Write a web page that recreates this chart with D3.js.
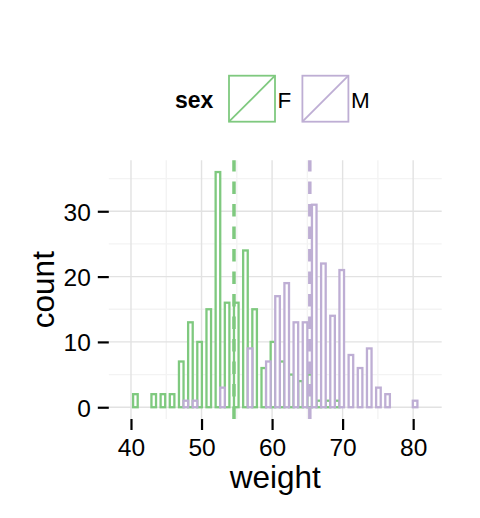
<!DOCTYPE html>
<html>
<head>
<meta charset="utf-8">
<script src="https://cdn.jsdelivr.net/npm/d3@7"></script>
<style>
  body { margin: 0; background: #fff; }
  text { font-family: "Liberation Sans", Arial, sans-serif; fill: #000; }
</style>
</head>
<body>
<div id="chart"></div>
<script>
"use strict";

// histogram bins (lower edge of each bin, kg) and bin width
var binLower = [39.0, 40.3, 41.6, 42.9, 44.2, 45.5, 46.8, 48.1, 49.4, 50.7, 52.0,
  53.3, 54.6, 55.9, 57.2, 58.5, 59.8, 61.1, 62.4, 63.7, 65.0, 66.3, 67.6, 68.9,
  70.2, 71.5, 72.8, 74.1, 75.4, 76.7, 78.0, 79.3, 80.6];
var binWidth = 1.3;

var sexes = ["F", "M"];
var countF = [0, 2, 0, 2, 2, 2, 7, 13, 10, 15, 36, 16, 16, 24, 15, 6, 10, 7, 5, 4,
  5, 1, 1, 1, 0, 0, 0, 0, 0, 0, 0, 0, 0];
var countM = [0, 0, 0, 0, 0, 0, 1, 1, 0, 0, 3, 0, 0, 9, 0, 7, 17, 19, 13, 13, 31,
  22, 14, 21, 8, 6, 9, 3, 2, 0, 0, 1, 0];
var groupMean = [54.6, 65.35];

var xTicks = [40, 50, 60, 70, 80];
var yTicks = [0, 10, 20, 30];
var xMinor = [45, 55, 65, 75];
var yMinor = [5, 15, 25, 35];

var colors = ["#7FC97F", "#BEAED4"];

var W = 480, H = 518;
var margin = { top: 160.3, right: 38.3, bottom: 99, left: 108.8 },
  width = W - margin.left - margin.right,
  height = H - margin.top - margin.bottom;

// ggplot-like 5% expansion
function expand(lo, hi) {
  var d = (hi - lo) * 0.05;
  return [lo - d, hi + d];
}

var counts = [countF, countM];
var bars = [];
sexes.forEach(function(s, g) {
  binLower.forEach(function(lo, i) {
    bars.push({ sex: s, g: g, lo: lo, n: counts[g][i] });
  });
});

var x = d3
  .scaleLinear()
  .domain(expand(binLower[0], binLower[binLower.length - 1] + binWidth))
  .range([0, width]);
var y = d3
  .scaleLinear()
  .domain(expand(0, d3.max(bars, function(d) { return d.n; })))
  .range([height, 0]);

var svg = d3
  .select("#chart")
  .append("svg")
  .attr("width", W)
  .attr("height", H);

svg.append("rect").attr("width", W).attr("height", H).attr("fill", "#fff");

var panel = svg
  .append("g")
  .attr("transform", "translate(" + margin.left + "," + margin.top + ")");

// grid
function hgrid(vals, col) {
  panel
    .append("g")
    .selectAll("line")
    .data(vals)
    .enter()
    .append("line")
    .attr("x1", 0)
    .attr("x2", width)
    .attr("y1", function(d) { return y(d); })
    .attr("y2", function(d) { return y(d); })
    .attr("stroke", col)
    .attr("stroke-width", 1.4);
}
function vgrid(vals, col) {
  panel
    .append("g")
    .selectAll("line")
    .data(vals)
    .enter()
    .append("line")
    .attr("y1", 0)
    .attr("y2", height)
    .attr("x1", function(d) { return x(d); })
    .attr("x2", function(d) { return x(d); })
    .attr("stroke", col)
    .attr("stroke-width", 1.4);
}
hgrid(yMinor, "#f3f3f3");
vgrid(xMinor, "#f3f3f3");
hgrid(yTicks, "#e2e2e2");
vgrid(xTicks, "#e2e2e2");

// dodged histogram bars
panel
  .selectAll("rect.bar")
  .data(bars)
  .enter()
  .append("rect")
  .attr("x", function(d) { return x(d.lo + d.g * binWidth / 2); })
  .attr("width", function(d) { return x(d.lo + binWidth / 2) - x(d.lo); })
  .attr("y", function(d) { return y(d.n); })
  .attr("height", function(d) { return y(0) - y(d.n); })
  .attr("fill", "#fff")
  .attr("stroke", function(d) { return colors[d.g]; })
  .attr("stroke-width", 2.3);

// mean lines
panel
  .selectAll("line.mean")
  .data(groupMean)
  .enter()
  .append("line")
  .attr("x1", function(d) { return x(d); })
  .attr("x2", function(d) { return x(d); })
  .attr("y1", height)
  .attr("y2", 0)
  .attr("stroke", function(d, i) { return colors[i]; })
  .attr("stroke-width", 3.5)
  .attr("stroke-dasharray", "12.5,10");

// axes
var xAxis = svg
  .append("g")
  .attr("transform", "translate(" + margin.left + "," + (margin.top + height) + ")")
  .call(d3.axisBottom(x).tickValues(xTicks).tickSize(11).tickPadding(8));
var yAxis = svg
  .append("g")
  .attr("transform", "translate(" + margin.left + "," + margin.top + ")")
  .call(d3.axisLeft(y).tickValues(yTicks).tickSize(11).tickPadding(7));

[xAxis, yAxis].forEach(function(a) {
  a.select(".domain").remove();
  a.selectAll(".tick line").attr("stroke", "#000").attr("stroke-width", 2.2);
  a.selectAll(".tick text")
    .attr("font-size", 24.5)
    .attr("font-family", "Liberation Sans, Arial, sans-serif")
    .attr("fill", "#000");
});
yAxis.selectAll(".tick text").attr("dy", "0.36em");
xAxis.selectAll(".tick text").attr("dy", "0.72em");

svg
  .append("text")
  .attr("x", margin.left + width / 2)
  .attr("y", 488)
  .attr("text-anchor", "middle")
  .attr("font-size", 31.5)
  .text("weight");

svg
  .append("text")
  .attr("transform", "translate(53.5," + (margin.top + height / 2) + ") rotate(-90)")
  .attr("text-anchor", "middle")
  .attr("font-size", 31.5)
  .text("count");

// legend
var legend = svg.append("g");
legend
  .append("text")
  .attr("x", 175)
  .attr("y", 108)
  .attr("font-size", 23)
  .attr("font-weight", "bold")
  .text("sex");

var keyX = [229, 302.4];
var keySize = 46;
var key = legend
  .selectAll("g.key")
  .data(sexes)
  .enter()
  .append("g")
  .attr("transform", function(d, i) { return "translate(" + keyX[i] + ",75.7)"; });
key
  .append("rect")
  .attr("width", keySize)
  .attr("height", keySize)
  .attr("fill", "#fff")
  .attr("stroke", function(d, i) { return colors[i]; })
  .attr("stroke-width", 1.8);
key
  .append("line")
  .attr("x1", 0)
  .attr("y1", keySize)
  .attr("x2", keySize)
  .attr("y2", 0)
  .attr("stroke", function(d, i) { return colors[i]; })
  .attr("stroke-width", 1.8);
key
  .append("text")
  .attr("x", keySize + 2.5)
  .attr("y", 32.6)
  .attr("font-size", 22.5)
  .text(function(d) { return d; });
</script>
</body>
</html>
